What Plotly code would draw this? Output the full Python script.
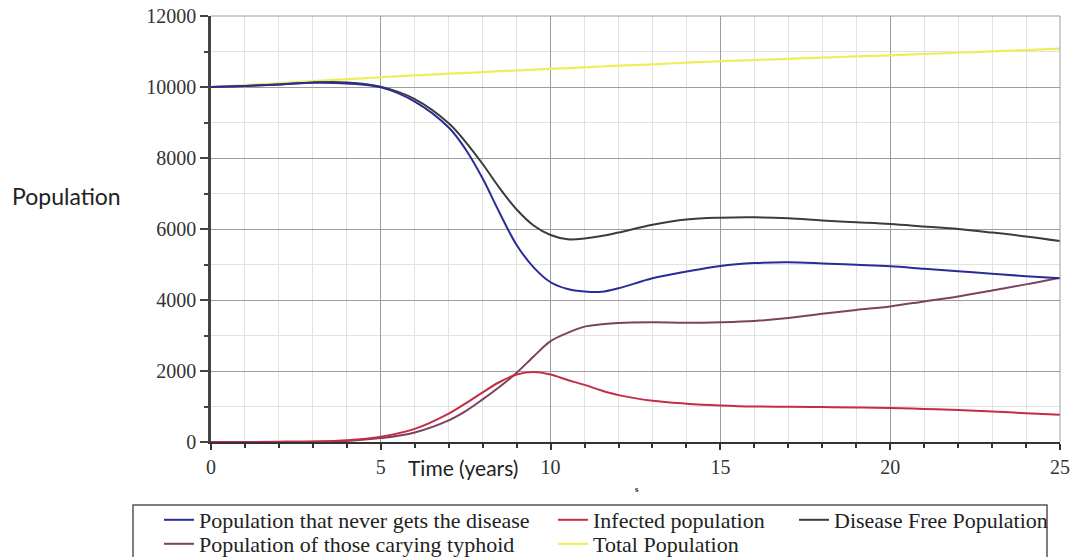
import plotly.graph_objects as go

# ---- data ----
time_years = [0, 1, 2, 3, 4, 5, 6, 7, 7.5, 8, 8.5, 9, 9.5, 10, 10.5, 11, 11.5, 12, 13, 14,
              15, 16, 17, 18, 19, 20, 21, 22, 23, 24, 25]

never_disease = [10000, 10030, 10070, 10120, 10100, 9990, 9590, 8860, 8240, 7420, 6450,
                 5550, 4920, 4500, 4310, 4240, 4230, 4330, 4610, 4800, 4960, 5040, 5060,
                 5030, 4990, 4950, 4880, 4810, 4740, 4670, 4610]

infected = [0, 0, 5, 15, 50, 150, 370, 800, 1090, 1400, 1690, 1900, 1970, 1900, 1745,
            1610, 1450, 1320, 1160, 1080, 1030, 1000, 995, 985, 975, 960, 930, 900, 860,
            810, 770]

disease_free = [10000, 10030, 10070, 10130, 10130, 10010, 9660, 8980, 8450, 7830, 7150,
                6550, 6100, 5830, 5710, 5730, 5800, 5900, 6120, 6270, 6320, 6330, 6300,
                6240, 6190, 6140, 6070, 6000, 5900, 5790, 5660]

carrying = [0, 0, 3, 10, 30, 110, 270, 610, 870, 1200, 1555, 1950, 2410, 2840, 3075,
            3250, 3315, 3355, 3370, 3360, 3375, 3410, 3490, 3610, 3720, 3820, 3960, 4100,
            4270, 4440, 4630]

total = [10000, 10055, 10110, 10165, 10220, 10275, 10325, 10375, 10398, 10420, 10445,
         10465, 10490, 10510, 10532, 10555, 10578, 10600, 10640, 10685, 10725, 10760,
         10795, 10830, 10860, 10890, 10930, 10965, 11005, 11040, 11080]

x_ticks = [0, 5, 10, 15, 20, 25]
y_ticks = [0, 2000, 4000, 6000, 8000, 10000, 12000]

names = {
    "never": "Population that never gets the disease",
    "infected": "Infected population",
    "free": "Disease Free Population",
    "carry": "Population of those carying typhoid",
    "total": "Total Population",
}

W, H = 1076, 557
L, R, T, B = 211, 16, 16, 115
pw, ph = W - L - R, H - T - B


def px_x(p):
    return (p - L) / pw


def px_y(p):
    return (H - B - p) / ph


serif = "Liberation Serif, Times New Roman, serif"
sans = "Lato, Open Sans, sans-serif"

fig = go.Figure()
fig.add_trace(go.Scatter(x=time_years, y=total, name=names["total"], mode="lines",
                         line=dict(color="#eeee5c", width=2.2, shape="spline"),
                         legend="legend5"))
fig.add_trace(go.Scatter(x=time_years, y=carrying, name=names["carry"], mode="lines",
                         line=dict(color="#7c4262", width=2, shape="spline"),
                         legend="legend4"))
fig.add_trace(go.Scatter(x=time_years, y=infected, name=names["infected"], mode="lines",
                         line=dict(color="#c42d45", width=2, shape="spline"),
                         legend="legend2"))
fig.add_trace(go.Scatter(x=time_years, y=disease_free, name=names["free"], mode="lines",
                         line=dict(color="#3c3c3c", width=2, shape="spline"),
                         legend="legend3"))
fig.add_trace(go.Scatter(x=time_years, y=never_disease, name=names["never"], mode="lines",
                         line=dict(color="#2b2b98", width=2, shape="spline"),
                         legend="legend"))

leg_common = dict(bgcolor="rgba(0,0,0,0)", borderwidth=0, xanchor="left", yanchor="top",
                  font=dict(family=serif, size=22, color="#222"), orientation="v")
row1_y = px_y(499)
row2_y = px_y(523)
col1_x = px_x(159)
col2_x = px_x(553)
col3_x = px_x(794)

fig.update_layout(
    width=W, height=H,
    margin=dict(l=L, r=R, t=T, b=B, autoexpand=False),
    paper_bgcolor="white", plot_bgcolor="white",
    showlegend=True,
    legend=dict(x=col1_x, y=row1_y, **leg_common),
    legend2=dict(x=col2_x, y=row1_y, **leg_common),
    legend3=dict(x=col3_x, y=row1_y, **leg_common),
    legend4=dict(x=col1_x, y=row2_y, **leg_common),
    legend5=dict(x=col2_x, y=row2_y, **leg_common),
    xaxis=dict(range=[0, 25], tickvals=x_ticks, ticktext=[str(v) for v in x_ticks],
               showgrid=True, gridcolor="#9c9c9c",
               gridwidth=1, zeroline=False, showline=True, linecolor="#333", linewidth=2,
               ticks="outside", ticklen=6, tickcolor="#333", tickwidth=1.5,
               tickfont=dict(family=serif, size=20, color="#333"),
               minor=dict(dtick=1, showgrid=True, gridcolor="#e2e2e2", ticks="outside",
                          ticklen=4, tickcolor="#333")),
    yaxis=dict(range=[0, 12000], tickvals=y_ticks, ticktext=[str(v) for v in y_ticks],
               showgrid=True, gridcolor="#9c9c9c",
               gridwidth=1, zeroline=False, showline=True, linecolor="#444", linewidth=2.5,
               ticks="outside", ticklen=8, tickcolor="#444", tickwidth=1.5,
               tickfont=dict(family=serif, size=20, color="#333"),
               minor=dict(dtick=1000, showgrid=True, gridcolor="#e2e2e2", ticks="outside",
                          ticklen=4, tickcolor="#444")),
    shapes=[
        dict(type="rect", xref="paper", yref="paper", x0=px_x(133), x1=px_x(1047),
             y0=px_y(505), y1=px_y(565), line=dict(color="#555", width=1.5),
             fillcolor="rgba(0,0,0,0)", layer="below"),
        dict(type="line", xref="paper", yref="paper", x0=1, x1=1, y0=0, y1=1,
             line=dict(color="#9c9c9c", width=1)),
        dict(type="line", xref="paper", yref="paper", x0=0, x1=1, y0=1, y1=1,
             line=dict(color="#9c9c9c", width=1)),
    ],
    annotations=[
        dict(text="Population", xref="paper", yref="paper", x=px_x(10), y=px_y(196),
             xanchor="left", yanchor="middle", showarrow=False,
             font=dict(family=sans, size=23, color="#222")),
        dict(text="Time (years)", xref="paper", yref="paper", x=px_x(463), y=px_y(467),
             xanchor="center", yanchor="middle", showarrow=False,
             font=dict(family=sans, size=21, color="#222")),
        dict(text="<b>s</b>", xref="paper", yref="paper", x=px_x(637), y=px_y(489),
             xanchor="center", yanchor="middle", showarrow=False,
             font=dict(family=serif, size=9, color="#222")),
    ],
)

fig.write_html("out.html", config={"displayModeBar": False},
               post_script="document.body.style.margin='0';document.body.style.overflow='hidden';")
